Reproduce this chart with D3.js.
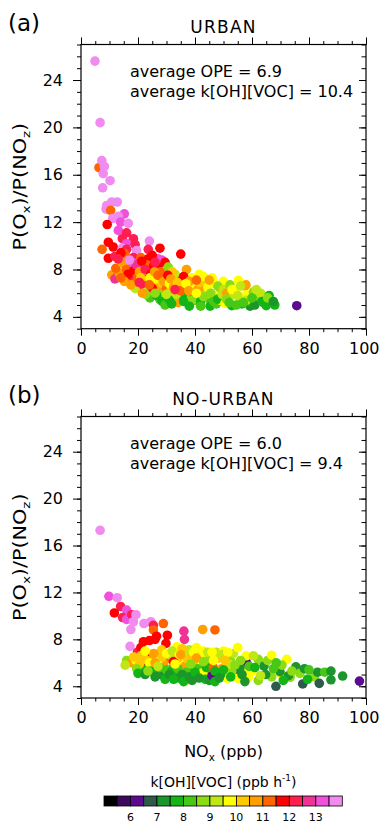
<!DOCTYPE html>
<html>
<head>
<meta charset="utf-8">
<script src="https://cdn.jsdelivr.net/npm/d3@7"></script>
<style>
  body { margin: 0; background: #fff; }
  svg { display: block; }
  text { font-family: "DejaVu Sans", sans-serif; fill: #000; }
</style>
</head>
<body>
<svg id="chart" width="380" height="824"></svg>
<script>
// axis ticks
const xTicks = [0, 20, 40, 60, 80, 100];
const yTicks = [4, 8, 12, 16, 20, 24];

// colour bar: k[OH][VOC] level boundaries (ppb h-1), box colours, labels
const kBounds = [5.5, 6, 6.5, 7, 7.5, 8, 8.5, 9, 9.5, 10, 10.5, 11, 11.5, 12, 12.5, 13, 13.5];
const kColors = ["#000000", "#3c0a5c", "#5c0a90", "#2e5a4a", "#1c962c", "#12b416", "#46c814", "#8cdc14",
                 "#c0e614", "#ffff00", "#ffc800", "#ffa000", "#ff6400", "#ff0000", "#ff1e50", "#f03296",
                 "#f050dc", "#f08cf0"];
const kTickLabels = [6, 7, 8, 9, 10, 11, 12, 13];

// [NOx (ppb), P(Ox)/P(NOz), k[OH][VOC]]
const urbanPoints = [
  [4.9,25.6,13.8],[6.7,20.4,13.8],[6.3,16.6,11.2],[7.3,17.2,13.8],[8.2,16.7,13.8],[7.8,16.1,13.8],[10.2,15.5,13.8],[7.6,14.9,13.8],
  [9.0,13.4,13.8],[10.8,13.7,13.8],[12.7,13.7,13.8],[8.8,13.1,13.8],[10.4,13.0,11.2],[15.2,12.7,13.2],[13.1,12.5,13.8],[11.1,12.3,13.8],
  [13.9,12.0,13.2],[9.2,11.8,11.8],[16.6,11.9,13.8],[13.1,11.3,13.2],[16.0,11.1,12.2],[14.5,10.6,12.2],[18.4,10.6,12.2],[24.0,10.4,13.8],
  [9.6,10.3,11.8],[16.0,10.2,13.2],[19.0,10.1,12.2],[7.4,9.7,11.2],[11.3,9.9,11.8],[14.5,9.8,13.8],[16.0,9.7,12.2],[23.6,9.7,12.2],
  [27.7,9.8,11.8],[35.0,9.3,11.8],[19.5,9.6,13.8],
  [9.6,8.95,11.8],[11.9,9.1,12.2],[15.4,9.3,11.2],[18.4,9.0,12.2],[21.0,9.0,11.2],[23.6,8.9,11.8],[28.3,8.8,13.2],[15.4,8.4,10.7],
  [18.0,8.6,13.2],[21.3,8.1,13.2],[24.8,8.2,11.8],[27.5,8.5,11.8],
  [10.8,7.55,10.7],[11.9,7.2,12.8],[12.8,7.4,12.8],[13.4,7.7,10.7],[12.2,8.1,11.2],[14.3,8.6,10.7],[16.0,8.0,11.2],[17.8,7.1,12.2],
  [16.5,7.6,11.8],[15.2,7.0,10.7],[19.0,6.4,9.2],[18.5,7.9,11.8],[19.5,8.4,12.8],[17.0,8.8,13.8],[14.0,9.4,11.8],[13.0,8.9,12.2],
  [20.0,7.4,11.2],[19.5,7.0,11.2],[20.5,7.8,10.7],[22.0,7.2,11.8],[23.0,8.4,11.2],[17.5,6.7,10.7],[14.0,7.3,11.2],
  [21.3,8.7,11.8],[22.5,8.0,12.2],[23.6,7.0,10.7],[24.2,5.6,8.2],[26.0,6.7,10.7],[27.7,6.3,10.7],[27.7,5.45,8.2],[29.5,7.7,12.2],
  [21.0,7.3,10.2],[22.0,6.6,12.2],[23.0,6.1,9.2],[24.5,7.6,11.8],[25.5,8.3,11.8],[26.5,7.2,9.8],[28.0,7.8,11.2],[28.5,6.8,10.2],
  [29.0,5.9,8.7],[25.0,6.4,11.8],[26.5,5.8,7.8],[28.5,5.3,7.8],[30.0,6.4,11.2],[24.2,7.3,9.8],[22.7,5.9,8.7],[20.5,6.9,12.2],
  [27.0,8.9,13.2],[29.5,8.6,11.8],[25.0,9.2,11.8],[30.6,8.2,8.7],[25.8,7.8,10.7],[26.0,6.0,8.7],[27.0,7.5,11.2],[29.0,7.0,10.7],
  [21.5,6.0,10.7],[24.0,6.7,11.2],[26.0,8.6,12.2],[29.5,5.0,8.2],
  [32.4,7.1,11.2],[34.1,6.6,10.7],[33.0,5.45,8.7],[31.0,5.45,7.8],[37.0,8.0,10.7],[38.8,7.3,9.8],[40.0,6.7,9.2],[36.5,6.0,10.7],
  [34.1,5.2,10.7],[31.5,6.2,10.2],[33.0,7.6,9.2],[35.0,7.0,11.8],[36.0,6.4,9.8],[37.5,5.5,8.7],[38.5,6.5,9.8],[39.5,5.9,11.2],
  [32.0,7.8,10.2],[35.5,5.8,7.8],[34.0,6.1,12.2],[31.0,6.8,9.8],[36.0,7.4,11.8],[38.0,7.0,10.7],[40.0,5.4,8.2],[33.5,5.9,9.2],
  [30.5,7.5,11.8],[31.5,7.2,10.7],[32.5,6.5,10.7],[30.0,5.9,9.2],[31.8,5.1,7.8],[33.8,6.9,10.2],[35.0,6.2,11.2],[36.8,6.8,9.8],
  [37.8,6.2,10.7],[39.0,5.4,8.7],[36.0,5.3,7.8],[38.0,4.9,7.8],[33.0,6.3,12.2],
  [41.0,6.3,10.7],[42.9,6.85,9.8],[43.5,6.3,10.7],[45.3,5.45,8.2],[46.4,6.85,9.8],[48.8,6.0,10.7],[49.9,7.0,9.8],[45.3,4.9,7.8],
  [44.0,5.9,9.2],[42.0,5.3,7.8],[47.0,5.8,9.8],[48.0,6.6,8.7],[46.0,7.3,9.8],[44.0,7.0,9.2],[41.5,7.6,9.8],[43.0,5.7,8.7],
  [47.5,5.1,8.2],[49.0,5.4,9.8],[42.0,4.9,8.2],[50.0,6.3,9.2],[40.5,6.0,9.8],[41.5,6.9,10.2],[43.0,7.4,9.8],[44.5,6.5,9.8],
  [45.5,6.0,8.7],[46.5,5.3,8.2],[48.0,5.5,7.8],[49.5,5.9,9.2],[45.0,7.1,10.7],[40.5,7.1,11.2],
  [51.1,6.0,10.7],[50.5,5.16,9.8],[52.3,6.7,8.7],[52.9,4.94,7.8],[53.5,5.9,9.2],[55.2,7.07,9.8],[54.0,6.3,9.8],[56.0,5.5,8.7],
  [57.5,6.6,10.7],[57.9,6.7,10.7],[58.1,5.86,9.8],[59.3,4.9,7.2],[59.9,5.2,7.8],[60.5,6.1,8.7],[62.0,5.7,8.7],[62.8,5.5,8.7],
  [64.0,5.2,7.8],[65.0,4.94,7.8],[66.9,5.3,7.8],[68.0,5.0,7.8],[61.0,5.0,7.2],[63.0,6.0,9.2],[56.5,5.1,7.8],[54.5,5.0,8.2],
  [58.0,5.4,9.2],[66.0,5.8,7.8],[51.0,5.5,8.7],[52.0,5.2,8.2],[53.0,6.3,9.8],[55.0,5.8,9.2],[56.0,6.6,9.2],[57.0,5.2,8.2],
  [60.0,5.6,8.2],[61.5,6.3,9.2],[63.5,5.3,7.8],[65.5,5.6,8.7],[67.5,5.3,7.2],
  [75.7,4.94,6.2]
];

const ruralPoints = [
  [6.7,17.3,13.8],[9.8,11.67,13.2],[12.7,11.55,13.8],[13.9,10.8,12.2],[11.7,10.25,11.8],[16.0,10.5,13.2],[14.6,9.86,12.2],[16.0,9.7,13.2],
  [17.8,10.1,12.2],[19.3,10.1,13.8],[18.4,9.5,13.8],[17.5,8.84,13.8],[22.1,9.35,13.8],[24.5,9.5,13.8],[25.4,9.2,12.2],[25.4,8.8,11.2],
  [28.9,9.35,11.2],[26.5,8.27,11.8],[30.3,8.35,11.8],[29.8,7.65,11.8],[36.1,8.7,12.8],[36.3,8.0,12.8],[42.7,8.84,10.7],[47.0,8.8,11.2],
  [21.9,7.8,11.8],[24.0,7.9,11.8],[26.0,8.0,11.8],[17.2,7.4,13.8],[19.8,6.9,12.2],[21.0,7.3,11.8],[26.8,6.7,12.8],[23.6,6.5,11.8],
  [25.0,6.3,10.7],[23.0,5.7,11.8],[24.5,5.6,11.8],
  [16.0,6.2,8.7],[17.8,6.0,10.7],[19.3,6.2,9.8],[21.9,5.44,7.8],[20.5,5.9,10.2],[22.5,6.3,10.2],[24.0,6.0,9.8],[26.5,5.23,7.8],
  [28.3,7.1,10.2],[30.6,6.4,11.2],[32.4,5.6,11.2],[29.0,5.9,10.7],[27.0,6.2,9.8],[25.5,6.8,10.7],[21.0,6.6,10.2],[19.5,5.5,8.7],
  [28.0,5.0,7.2],[30.0,5.4,8.2],[22.5,7.0,9.8],[20.0,5.1,7.8],[22.5,5.0,7.2],[24.5,5.3,7.8],[26.0,4.8,7.2],[27.5,5.6,8.2],
  [29.5,4.6,7.8],[26.0,6.0,10.7],[28.5,6.5,10.2],[18.5,6.5,10.2],[15.5,5.8,9.2],[23.5,5.3,8.7],[27.0,5.7,9.2],
  [33.5,5.0,7.8],[37.1,4.53,10.2],[40.0,4.76,10.7],[33.6,7.36,9.8],[36.1,6.9,9.8],[38.4,6.5,8.7],[41.8,6.8,9.2],[31.9,5.3,7.8],
  [38.4,5.4,7.8],[43.7,5.2,10.7],[44.5,5.9,8.7],[35.0,6.0,9.8],[36.5,5.7,10.7],[34.0,6.4,10.2],[39.5,6.0,9.2],[42.0,6.3,9.8],
  [31.0,6.7,9.2],[34.5,4.7,7.2],[41.0,5.5,8.2],[42.7,6.5,9.8],[45.3,6.5,8.7],[42.7,5.15,9.8],[43.7,4.6,7.8],[38.0,7.1,9.2],
  [35.5,7.2,10.2],[40.5,7.3,9.8],[32.5,6.1,11.8],[37.0,5.2,8.2],[39.0,4.5,7.2],[31.0,5.0,7.2],[32.5,4.6,7.8],[34.0,5.5,8.2],
  [35.5,5.0,7.2],[36.0,4.4,7.8],[38.0,4.8,7.2],[40.0,5.2,7.8],[41.5,4.7,7.2],[44.0,5.6,7.8],[45.0,4.5,7.2],[30.0,6.8,9.8],
  [32.0,7.0,9.2],[34.5,6.7,9.8],[37.5,6.3,10.2],[39.5,6.9,9.8],[43.0,7.0,9.8],[44.5,6.9,9.2],[33.0,5.9,9.8],[35.0,6.7,10.7],
  [40.5,6.4,10.7],[43.0,6.1,8.7],[38.5,5.9,8.7],
  [48.2,6.4,10.2],[52.3,6.3,8.7],[46.4,5.6,11.2],[49.3,5.5,10.7],[46.0,4.9,6.2],[54.6,5.44,6.8],[51.3,4.67,9.8],[55.2,4.67,9.8],
  [53.0,5.3,8.7],[58.1,6.0,6.2],[57.9,6.6,9.8],[58.0,5.2,9.8],[60.0,5.3,9.8],[55.8,5.6,7.2],[58.7,4.8,9.8],[47.5,6.9,9.2],
  [50.0,7.0,9.8],[53.5,6.8,9.2],[56.0,6.2,8.7],[49.0,5.0,7.2],[47.0,4.4,7.8],[52.0,5.9,9.2],[55.0,7.3,9.8],[47.0,5.3,7.8],
  [48.5,4.7,7.2],[50.0,5.4,7.8],[52.5,4.8,7.8],[54.0,5.8,8.7],[56.5,5.0,7.2],[59.0,5.7,8.2],[57.5,4.4,7.2],[46.5,6.2,9.8],
  [49.5,6.7,9.2],[51.5,6.9,9.8],[46.0,6.9,9.8],[50.5,6.2,10.2],
  [62.2,6.29,8.7],[64.2,5.72,7.2],[65.5,6.2,8.7],[66.9,6.65,9.8],[66.9,4.8,8.7],[68.4,4.0,6.8],[70.2,5.0,9.8],[72.2,6.29,9.8],
  [73.4,4.77,8.7],[75.4,5.66,7.2],[76.8,5.1,8.7],[77.8,4.2,6.8],[78.4,5.5,7.2],[81.9,4.8,8.7],[83.0,5.2,7.2],[83.6,4.25,6.8],
  [85.5,5.2,8.2],[87.7,5.3,7.2],[87.7,4.55,7.2],[91.8,4.87,7.2],[97.7,4.44,6.2],[62.2,4.5,8.7],[64.8,5.0,7.2],[69.8,5.25,7.2],
  [70.5,5.8,8.7],[72.8,4.9,7.2],[61.0,5.6,7.8],[63.0,4.9,9.2],[67.5,5.5,8.2],[74.0,5.3,8.7],[80.0,5.4,8.2],[79.5,4.6,7.8],
  [71.0,4.5,7.8],[60.5,6.6,9.2],[68.5,6.0,8.2]
];

const panels = [
  { tag: "(a)", title: "URBAN", ope: "6.9", kvoc: "10.4", points: urbanPoints, top: 44.5, bottom: 328.7 },
  { tag: "(b)", title: "NO-URBAN", ope: "6.0", kvoc: "9.4", points: ruralPoints, top: 416.5, bottom: 698 }
];

const svg = d3.select("#chart");
const left = 81, right = 366;
const x = d3.scaleLinear().domain([0, 100]).range([left, right]);
const color = d3.scaleThreshold().domain(kBounds).range(kColors);

// label with subscripts: parts alternate normal / subscript text
function subLabel(g, parts, size) {
  const t = g.append("text").style("font-size", size + "px");
  parts.forEach((s, i) => {
    const sp = t.append("tspan").text(s);
    if (i % 2 === 1) sp.style("font-size", (size * 0.65) + "px").attr("dy", size * 0.28);
    else if (i > 0) sp.attr("dy", -size * 0.28);
  });
  return t;
}

panels.forEach(p => {
  const y = d3.scaleLinear().domain([3, 27]).range([p.bottom, p.top]);
  const g = svg.append("g");

  g.append("text").attr("x", 8).attr("y", p.top - 14)
    .style("font-size", "23px").text(p.tag);
  g.append("text").attr("x", (left + right) / 2).attr("y", p.top - 11.5)
    .attr("text-anchor", "middle").style("font-size", "17px").style("letter-spacing", "1.2px").text(p.title);

  // scatter
  g.append("g").selectAll("circle").data(p.points).join("circle")
    .attr("cx", d => x(d[0])).attr("cy", d => y(d[1])).attr("r", 4.8)
    .attr("fill", d => color(d[2]));

  // axes
  const minorX = d3.range(0, 101, 5), minorY = d3.range(3, 28, 1);
  const ax = [
    g.append("g").attr("transform", `translate(0,${p.bottom})`).call(d3.axisBottom(x).tickValues(minorX).tickSize(3.5).tickFormat("")),
    g.append("g").attr("transform", `translate(0,${p.bottom})`).call(d3.axisBottom(x).tickValues(xTicks).tickSize(7).tickPadding(7)),
    g.append("g").attr("transform", `translate(0,${p.top})`).call(d3.axisTop(x).tickValues(minorX).tickSize(3.5).tickFormat("")),
    g.append("g").attr("transform", `translate(0,${p.top})`).call(d3.axisTop(x).tickValues(xTicks).tickSize(7).tickFormat("")),
    g.append("g").attr("transform", `translate(${left},0)`).call(d3.axisLeft(y).tickValues(minorY).tickSize(4).tickFormat("")),
    g.append("g").attr("transform", `translate(${left},0)`).call(d3.axisLeft(y).tickValues(yTicks).tickSize(8).tickPadding(10)),
    g.append("g").attr("transform", `translate(${right},0)`).call(d3.axisRight(y).tickValues(minorY).tickSize(-4.5).tickFormat("")),
    g.append("g").attr("transform", `translate(${right},0)`).call(d3.axisRight(y).tickValues(yTicks).tickSize(-7).tickFormat(""))
  ];
  ax.forEach(a => {
    a.select(".domain").remove();
    a.selectAll("line").attr("stroke", "#000").attr("stroke-width", 1);
    a.selectAll("text").style("font-size", "16px").style("font-family", "\"DejaVu Sans\", sans-serif").attr("fill", "#000");
  });
  // keep "100" inside the page, as in the original where it sits at the edge
  ax[1].selectAll("text").filter(d => d === 100).attr("text-anchor", "end").attr("x", 13);

  g.append("rect").attr("x", left).attr("y", p.top)
    .attr("width", right - left).attr("height", p.bottom - p.top)
    .attr("fill", "none").attr("stroke", "#000").attr("stroke-width", 1.2);

  g.append("text").attr("x", 130).attr("y", p.top + 32.5)
    .style("font-size", "16px").text(`average OPE = ${p.ope}`);
  g.append("text").attr("x", 130).attr("y", p.top + 52.5)
    .style("font-size", "16px").text(`average k[OH][VOC] = ${p.kvoc}`);

  // y title
  subLabel(g.append("g").attr("transform", `translate(25.5,${(p.top + p.bottom) / 2}) rotate(-90) scale(1.22,1)`),
    ["P(O", "x", ")/P(NO", "z", ")"], 17).attr("text-anchor", "middle");
});

// x title
subLabel(svg.append("g").attr("transform", `translate(${(left + right) / 2},756.5)`), ["NO", "x", " (ppb)"], 16)
  .attr("text-anchor", "middle");

// colour bar
const cb = svg.append("g");
const cbX = d3.scaleLinear().domain([0, kColors.length]).range([104, 342.3]);
const cbTitle = cb.append("text").attr("x", (left + right) / 2).attr("y", 786.5)
  .attr("text-anchor", "middle").style("font-size", "14px");
cbTitle.append("tspan").text("k[OH][VOC] (ppb h");
cbTitle.append("tspan").text("-1").style("font-size", "9px").attr("dy", -6);
cbTitle.append("tspan").text(")").attr("dy", 6);

cb.selectAll("rect").data(kColors).join("rect")
  .attr("x", (d, i) => cbX(i)).attr("y", 796)
  .attr("width", cbX(1) - cbX(0)).attr("height", 10)
  .attr("fill", d => d).attr("stroke", "#000").attr("stroke-width", 0.8);

cb.selectAll("text.lab").data(kTickLabels).join("text").attr("class", "lab")
  .attr("x", d => cbX(kBounds.indexOf(d) + 1)).attr("y", 820.5)
  .attr("text-anchor", "middle").style("font-size", "11px").text(d => d);
</script>
</body>
</html>
